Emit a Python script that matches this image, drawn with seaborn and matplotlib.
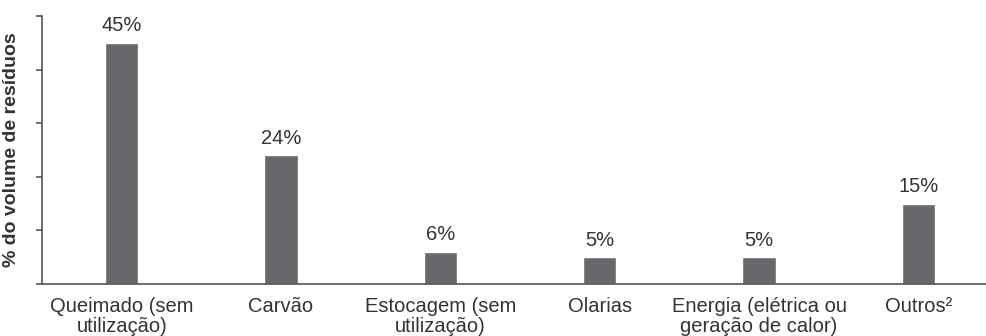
import pandas as pd
import matplotlib.pyplot as plt
import seaborn as sns

categorias = ['Queimado (sem\nutilização)', 'Carvão', 'Estocagem (sem\nutilização)',
              'Olarias', 'Energia (elétrica ou\ngeração de calor)', 'Outros²']
valores = [45, 24, 6, 5, 5, 15]
rotulos = ['45%', '24%', '6%', '5%', '5%', '15%']

df = pd.DataFrame({'destino': categorias, 'volume': valores})

sns.set_style('white')
plt.rcParams['font.family'] = ['Liberation Sans', 'DejaVu Sans']

fig = plt.figure(figsize=(9.87, 3.36), dpi=100)
ax = fig.add_axes([42 / 987, 52 / 336, 1 - 42 / 987, 268 / 336])

sns.barplot(data=df, x='destino', y='volume', color='#68686c', width=0.21,
            saturation=1, ax=ax)

# rótulos de percentagem acima das barras
for i, (v, txt) in enumerate(zip(valores, rotulos)):
    ax.annotate(txt, (i, v), xytext=(0, 5.5), textcoords='offset points',
                ha='center', va='bottom', fontsize=14.5, color='#333333')

ax.set_xlim(-0.5, 5.43)
ax.set_ylim(0, 50)
ax.set_yticks([0, 10, 20, 30, 40, 50])
ax.set_yticklabels([])
ax.set_xlabel('')
ax.set_ylabel('% do volume de resíduos', fontsize=14, fontweight='bold',
              color='#333333', labelpad=8)

for s in ['top', 'right']:
    ax.spines[s].set_visible(False)
for s in ['left', 'bottom']:
    ax.spines[s].set_color('#555555')
    ax.spines[s].set_linewidth(1.2)

ax.tick_params(axis='y', left=True, length=4, width=1.2, color='#555555')
ax.tick_params(axis='x', bottom=False, labelsize=14.5, labelcolor='#333333', pad=6)
for lbl in ax.get_xticklabels():
    lbl.set_linespacing(1.05)

fig.savefig('out.png', dpi=100)
